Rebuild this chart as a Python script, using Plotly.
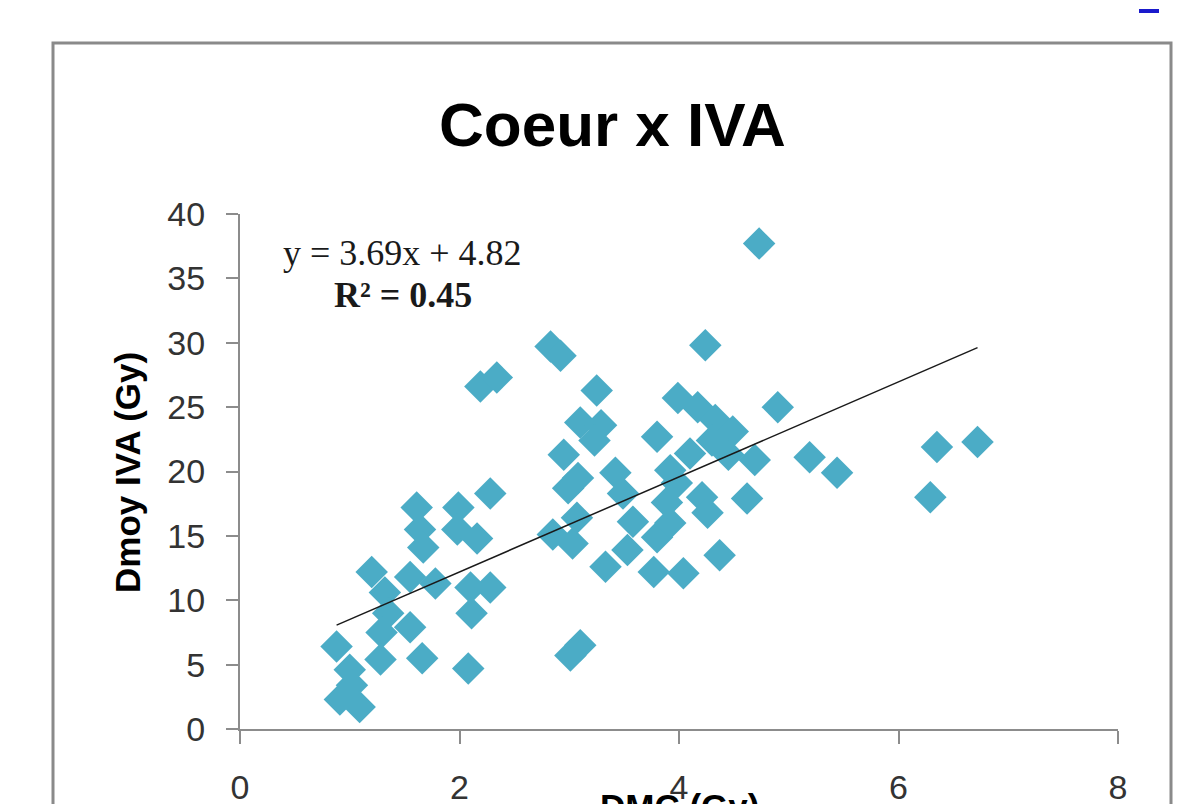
import plotly.graph_objects as go

# Data (DMC in Gy, Dmoy IVA in Gy)
dmc = [0.88, 1.00, 1.02, 0.91, 1.09, 1.20, 1.32, 1.35, 1.29, 1.28,
       1.55, 1.55, 1.66, 1.78, 1.61, 1.64, 1.67, 1.99, 1.98, 2.16,
       2.28, 2.10, 2.28, 2.11, 2.08, 2.19, 2.34,
       2.83, 2.92, 3.25, 3.10, 3.29, 3.23, 3.80, 2.95, 3.08, 2.99,
       3.42, 3.49, 2.85, 3.03, 3.07, 3.58, 3.53, 3.33, 3.77, 4.04,
       3.01, 3.10, 3.80, 3.92, 3.89, 3.92, 4.10, 4.21, 4.26, 4.62,
       4.37, 3.99, 4.17, 4.33, 4.49, 4.69, 4.45, 4.24, 4.90, 4.73,
       5.19, 5.44, 6.29, 6.35, 6.72, 3.98, 4.30]
dmoy_iva = [6.4, 4.6, 3.4, 2.3, 1.7, 12.2, 10.6, 9.0, 7.5, 5.4,
            11.8, 7.9, 5.5, 11.3, 17.2, 15.5, 14.1, 17.2, 15.5, 14.8,
            18.3, 11.0, 11.0, 9.0, 4.7, 26.6, 27.3,
            29.7, 29.0, 26.3, 23.8, 23.6, 22.4, 22.7, 21.3, 19.5, 18.7,
            19.9, 18.3, 15.1, 14.4, 16.4, 16.1, 13.9, 12.6, 12.2, 12.1,
            5.7, 6.5, 14.9, 16.0, 17.6, 20.1, 21.4, 18.0, 16.8, 17.9,
            13.5, 25.7, 25.0, 24.0, 23.1, 20.9, 21.3, 29.8, 25.0, 37.7,
            21.1, 19.9, 18.0, 21.9, 22.3, 19.1, 22.4]

slope = 3.69
intercept = 4.82
r_squared = 0.45

x_ticks = [0, 2, 4, 6, 8]
y_ticks = [0, 5, 10, 15, 20, 25, 30, 35, 40]

trend_x = [min(dmc), max(dmc)]
trend_y = [slope * v + intercept for v in trend_x]

fig = go.Figure()
fig.add_trace(go.Scatter(
    x=dmc, y=dmoy_iva, mode="markers",
    marker=dict(symbol="diamond", size=25, color="#4BACC6", line=dict(width=0)),
    showlegend=False, cliponaxis=False))
fig.add_trace(go.Scatter(
    x=trend_x, y=trend_y, mode="lines",
    line=dict(color="#1a1a1a", width=1.5), showlegend=False))

axis_font = dict(family="Liberation Sans, Arial", size=34, color="#333333")

fig.update_xaxes(range=[0, 8], tickvals=x_ticks, showgrid=False, zeroline=False,
                 showline=True, linecolor="#8c8c8c", linewidth=2, automargin=False,
                 ticks="outside", ticklen=13, tickwidth=2, tickcolor="#8c8c8c",
                 tickfont=axis_font, ticklabelstandoff=14)
fig.update_yaxes(range=[0, 40], tickvals=y_ticks, showgrid=False, zeroline=False,
                 showline=True, linecolor="#8c8c8c", linewidth=2, automargin=False,
                 ticks="outside", ticklen=12, tickwidth=2, tickcolor="#8c8c8c",
                 tickfont=axis_font, ticklabelstandoff=14)

# page body has an 8px margin: work in reference pixels minus 8
OFF = 8
W, H = 1202 - OFF, 804 - OFF
L, R, T, B = 240 - OFF, 1118 - OFF, 214 - OFF, 729 - OFF

def px(x):
    return (x - OFF - L) / (R - L)

def py(y):
    return (B - (y - OFF)) / (B - T)

fig.update_layout(
    width=W, height=H,
    margin=dict(l=L, r=W - R, t=T, b=H - B, autoexpand=False),
    paper_bgcolor="white", plot_bgcolor="white",
    shapes=[
        dict(type="rect", xref="paper", yref="paper",
             x0=px(53), x1=px(1171), y0=py(840), y1=py(43),
             line=dict(color="#8a8a8a", width=3), fillcolor="rgba(0,0,0,0)", layer="below"),
        dict(type="rect", xref="paper", yref="paper",
             x0=px(1139), x1=px(1159), y0=py(13), y1=py(9),
             line=dict(width=0), fillcolor="#1a1acc"),
    ],
    annotations=[
        dict(text="<b>Coeur x IVA</b>", xref="paper", yref="paper",
             x=px(612), y=py(124), xanchor="center", yanchor="middle", showarrow=False,
             font=dict(family="Liberation Sans, Arial", size=62, color="black")),
        dict(text="<b>Dmoy IVA (Gy)</b>", xref="paper", yref="paper",
             x=px(127), y=py(472), xanchor="center", yanchor="middle", showarrow=False,
             textangle=-90,
             font=dict(family="Liberation Sans, Arial", size=35, color="black")),
        dict(text="<b>DMC (Gy)</b>", xref="paper", yref="paper",
             x=px(679), y=py(785), xanchor="center", yanchor="top", showarrow=False,
             font=dict(family="Liberation Sans, Arial", size=35, color="black")),
        dict(text=f"y = {slope:.2f}x + {intercept:.2f}", xref="paper", yref="paper",
             x=px(402), y=py(253), xanchor="center", yanchor="middle", showarrow=False,
             font=dict(family="Liberation Serif, Times New Roman, serif", size=36, color="#1a1a1a")),
        dict(text=f"<b>R² = {r_squared:.2f}</b>", xref="paper", yref="paper",
             x=px(403), y=py(295), xanchor="center", yanchor="middle", showarrow=False,
             font=dict(family="Liberation Serif, Times New Roman, serif", size=36, color="#1a1a1a")),
    ],
)

fig.write_html("out.html")
